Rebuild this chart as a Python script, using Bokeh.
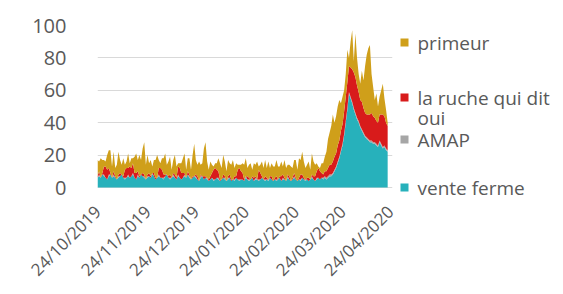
import pandas as pd
from bokeh.plotting import figure
from bokeh.layouts import row
from bokeh.models import ColumnDataSource, FixedTicker, Range1d
from bokeh.core.properties import value
from bokeh.embed import file_html
from bokeh.resources import INLINE

start_date = "2019-10-24"
n_days = 181

tick_labels = ["24/10/2019", "24/11/2019", "24/12/2019", "24/01/2020",
               "24/02/2020", "24/03/2020", "24/04/2020"]
y_ticks = [0, 20, 40, 60, 80, 100]

series_names = ["vente ferme", "AMAP", "la ruche qui dit oui", "primeur"]
colors = ["#27B1BB", "#A6A6A6", "#D81B1B", "#CF9F1A"]

vente_ferme = [
    6, 7, 6, 8, 7, 6, 5, 7, 8, 6,
    7, 6, 5, 6, 7, 8, 6, 5, 6, 7,
    6, 7, 8, 6, 5, 7, 6, 8, 7, 6,
    5, 6, 7, 6, 8, 7, 5, 6, 7, 6,
    6, 5, 7, 8, 6, 5, 6, 7, 6, 5,
    7, 6, 5, 6, 7, 6, 8, 6, 5, 6,
    7, 6, 5, 4, 6, 7, 5, 6, 5, 4,
    5, 6, 4, 5, 6, 5, 4, 5, 6, 5,
    4, 5, 6, 4, 5, 4, 6, 5, 4, 5,
    5, 4, 6, 5, 4, 5, 6, 4, 5, 5,
    4, 5, 6, 5, 4, 5, 4, 6, 5, 4,
    5, 4, 5, 6, 4, 5, 5, 4, 6, 5,
    4, 5, 6, 5, 4, 5, 4, 6, 5, 4,
    5, 4, 5, 6, 5, 4, 5, 6, 5, 6,
    5, 6, 5, 6, 7, 7, 8, 10, 12, 15,
    18, 22, 26, 32, 40, 48, 58, 55, 52, 48,
    45, 42, 40, 37, 35, 33, 31, 30, 29, 28,
    28, 27, 27, 26, 25, 28, 26, 24, 25, 23, 22,
]

amap = [
    0, 1, 0, 0, 1, 0, 0, 1, 0, 0,
    1, 0, 0, 1, 0, 0, 0, 1, 0, 1,
    0, 0, 1, 0, 0, 1, 0, 0, 0, 1,
    0, 1, 0, 0, 1, 0, 0, 0, 1, 0,
    0, 1, 0, 0, 0, 1, 0, 1, 0, 0,
    1, 0, 0, 0, 1, 0, 0, 1, 0, 0,
    0, 1, 0, 0, 1, 0, 0, 0, 1, 0,
    0, 0, 1, 0, 0, 1, 0, 0, 0, 1,
    0, 1, 0, 0, 0, 1, 0, 0, 1, 0,
    0, 0, 1, 0, 1, 0, 0, 0, 1, 0,
    1, 0, 0, 0, 1, 0, 1, 0, 0, 0,
    0, 1, 0, 0, 0, 1, 0, 0, 1, 0,
    0, 0, 1, 0, 0, 0, 1, 0, 0, 1,
    0, 0, 0, 1, 0, 0, 1, 0, 0, 0,
    1, 1, 1, 1, 1, 1, 1, 1, 1, 1,
    1, 1, 1, 1, 1, 1, 1, 1, 1, 1,
    1, 1, 1, 1, 1, 1, 1, 1, 1, 1,
    1, 1, 1, 1, 1, 1, 1, 1, 1, 1, 1,
]

ruche_qui_dit_oui = [
    1, 2, 0, 1, 5, 7, 6, 4, 1, 0,
    2, 1, 0, 1, 2, 0, 1, 5, 6, 4,
    7, 5, 6, 3, 4, 2, 1, 0, 2, 1,
    0, 1, 2, 1, 0, 2, 1, 0, 4, 6,
    5, 2, 1, 0, 1, 2, 0, 1, 2, 1,
    5, 6, 4, 3, 1, 0, 2, 1, 0, 1,
    0, 1, 2, 0, 1, 0, 2, 1, 0, 1,
    2, 3, 6, 7, 5, 4, 1, 0, 2, 1,
    0, 1, 2, 1, 0, 2, 1, 6, 7, 5,
    4, 1, 0, 2, 1, 0, 1, 2, 1, 0,
    6, 4, 1, 0, 2, 1, 0, 1, 2, 0,
    1, 2, 0, 1, 3, 2, 1, 0, 1, 2,
    0, 1, 2, 1, 0, 1, 3, 2, 1, 0,
    1, 2, 0, 1, 2, 3, 4, 6, 5, 3,
    2, 3, 4, 5, 6, 6, 7, 8, 8, 10,
    10, 12, 12, 14, 15, 16, 16, 18, 20, 22,
    22, 20, 18, 16, 17, 15, 14, 14, 15, 16,
    17, 16, 15, 14, 14, 16, 18, 20, 18, 16, 15,
]

primeur = [
    10, 6, 12, 8, 4, 3, 9, 11, 14, 7,
    12, 5, 9, 14, 8, 6, 11, 3, 4, 9,
    2, 6, 3, 10, 12, 7, 13, 9, 15, 20,
    9, 12, 6, 10, 4, 8, 11, 14, 5, 3,
    7, 10, 13, 6, 9, 11, 5, 8, 12, 7,
    2, 3, 6, 9, 12, 5, 8, 10, 6, 13,
    20, 9, 7, 12, 6, 8, 17, 21, 10, 6,
    9, 5, 2, 3, 4, 8, 10, 7, 12, 9,
    6, 10, 7, 9, 12, 5, 8, 3, 2, 4,
    6, 9, 11, 5, 8, 10, 4, 9, 7, 11,
    2, 5, 9, 7, 10, 6, 11, 5, 8, 9,
    7, 10, 8, 6, 9, 5, 11, 8, 6, 7,
    9, 6, 8, 11, 7, 12, 9, 14, 10, 7,
    8, 10, 6, 13, 9, 7, 5, 1, 2, 6,
    7, 9, 12, 18, 20, 24, 29, 21, 23, 24,
    25, 17, 17, 13, 14, 20, 5, 16, 24, 7,
    27, 17, 11, 10, 19, 17, 29, 37, 41, 43,
    24, 18, 11, 17, 10, 11, 15, 19, 11, 8, 2,
]

# legend (top to bottom, as in the reference)
legend_labels = [["primeur"], ["la ruche qui dit", "oui"], ["AMAP"], ["vente ferme"]]
legend_colors = [colors[3], colors[2], colors[1], colors[0]]

# ---- build data ----
dates = pd.date_range(start_date, periods=n_days, freq="D")
day_index = [(d - dates[0]).days for d in dates]
tick_dates = pd.to_datetime(tick_labels, format="%d/%m/%Y")
tick_pos = [(d - dates[0]).days for d in tick_dates]

source = ColumnDataSource(dict(
    x=day_index,
    vente=vente_ferme,
    amap=amap,
    ruche=ruche_qui_dit_oui,
    primeur=primeur,
))

FONT = "Open Sans"
TXT = "#595959"
H = 294
TOP = 25        # page y of value 100
ZERO_Y = 187    # page y of value 0
FRAME_BOTTOM = 200  # frame extends a little below 0 so the legend fits
Y_MIN = -(FRAME_BOTTOM - ZERO_Y) * 100.0 / (ZERO_Y - TOP)

p = figure(width=398, height=H, output_backend="svg", toolbar_location=None,
           x_range=Range1d(0, tick_pos[-1]), y_range=Range1d(Y_MIN, 100),
           min_border_left=97, min_border_right=6, min_border_top=TOP,
           min_border_bottom=H - FRAME_BOTTOM)
p.outline_line_color = None
p.border_fill_color = "white"

p.varea_stack(stackers=["vente", "amap", "ruche", "primeur"], x="x",
              color=colors, source=source)

p.yaxis.ticker = FixedTicker(ticks=y_ticks)
p.yaxis.axis_line_color = None
p.yaxis.major_tick_line_color = None
p.yaxis.minor_tick_line_color = None
p.yaxis.major_label_standoff = 25
p.yaxis.major_label_text_font = FONT
p.yaxis.major_label_text_font_size = "20px"
p.yaxis.major_label_text_color = TXT

p.xaxis.ticker = FixedTicker(ticks=tick_pos)
p.xaxis.major_label_overrides = {t: l for t, l in zip(tick_pos, tick_labels)}
p.xaxis.major_label_orientation = 0.785
p.xaxis.axis_line_color = None
p.xaxis.major_tick_line_color = None
p.xaxis.minor_tick_line_color = None
p.xaxis.major_tick_out = 0
p.xaxis.major_tick_in = 0
p.xaxis.major_label_standoff = 8
p.xaxis.major_label_text_font = FONT
p.xaxis.major_label_text_font_size = "17px"
p.xaxis.major_label_text_color = TXT

p.xgrid.grid_line_color = None
p.ygrid.grid_line_color = "#D9D9D9"
p.ygrid.grid_line_width = 1

# ---- legend panel: a second figure; its frame is aligned with the main
# frame by the row layout, so its y data units are page pixels ----
LW = 165
lg = figure(width=LW, height=H, output_backend="svg", toolbar_location=None,
            x_range=Range1d(0, LW), y_range=Range1d(FRAME_BOTTOM, TOP),
            x_axis_location=None, y_axis_location=None,
            min_border_left=0, min_border_right=0, min_border_top=TOP,
            min_border_bottom=H - FRAME_BOTTOM)
lg.outline_line_color = None
lg.grid.visible = False
lg.border_fill_color = "white"

row_y = [42, 97, 139, 187]
sw_x, txt_x, line_gap = 6, 19, 20
sw_src = ColumnDataSource(dict(x=[sw_x] * 4, y=row_y, c=legend_colors))
lg.rect(x="x", y="y", width=8, height=8, fill_color="c", line_color=None,
        source=sw_src)
tx, ty, tt = [], [], []
for ry, lines in zip(row_y, legend_labels):
    for k, line in enumerate(lines):
        tx.append(txt_x)
        ty.append(ry + k * line_gap)
        tt.append(line)
lg.text(x=tx, y=ty, text=tt, text_font=value(FONT), text_font_size="19px",
        text_color=TXT, text_baseline="middle", text_align="left")

layout = row(p, lg)
open("out.html", "w").write(file_html(layout, INLINE))
